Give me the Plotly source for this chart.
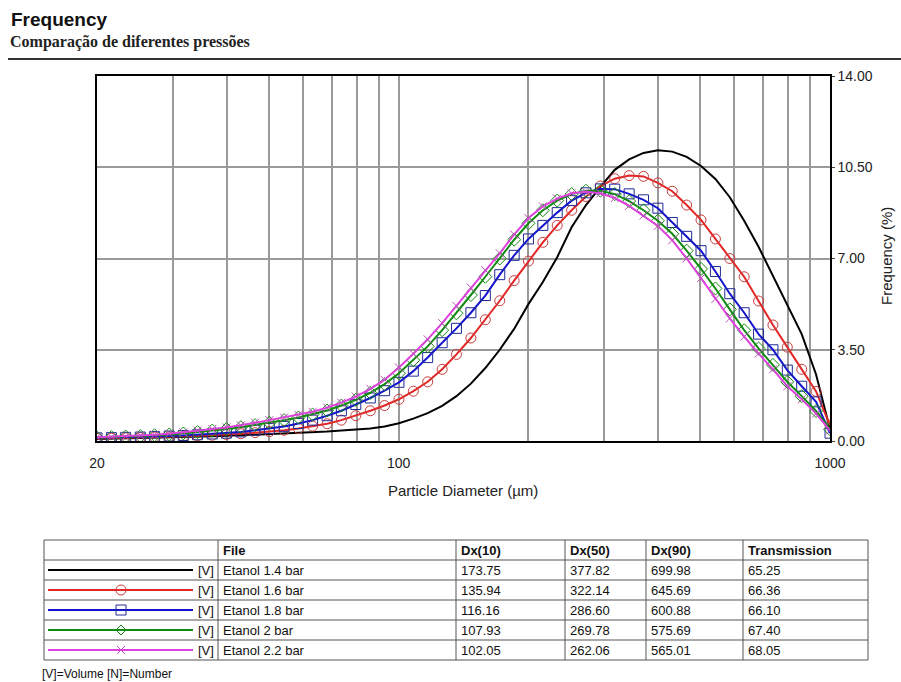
import plotly.graph_objects as go
import math

# ---------------- data ----------------
diameter_um = [20.0, 21.6, 23.3, 25.2, 27.2, 29.4, 31.7, 34.2, 37.0, 39.9,
               43.1, 46.5, 50.2, 54.3, 58.6, 63.2, 68.3, 73.7, 79.6, 86.0,
               92.8, 100.2, 108.2, 116.8, 126.2, 136.2, 147.1, 158.9, 171.6, 185.3,
               200.0, 216.0, 233.2, 251.8, 271.9, 293.6, 317.0, 342.3, 369.6, 399.1,
               430.9, 465.3, 502.4, 542.5, 585.8, 632.5, 683.0, 737.5, 796.2, 859.8,
               928.4, 1000.0]

freq_etanol_1_4 = [0.08, 0.09, 0.10, 0.11, 0.12, 0.14, 0.15, 0.17, 0.18, 0.20,
                   0.22, 0.24, 0.26, 0.28, 0.30, 0.33, 0.36, 0.40, 0.43, 0.48,
                   0.56, 0.68, 0.86, 1.07, 1.35, 1.72, 2.20, 2.80, 3.50, 4.30,
                   5.25, 6.10, 7.05, 8.20, 9.05, 9.75, 10.40, 10.80, 11.05, 11.15,
                   11.10, 10.90, 10.55, 10.05, 9.35, 8.45, 7.45, 6.35, 5.25, 4.10,
                   2.55, 0.45]

freq_etanol_1_6 = [0.10, 0.11, 0.12, 0.13, 0.15, 0.16, 0.18, 0.20, 0.22, 0.25,
                   0.28, 0.32, 0.36, 0.41, 0.48, 0.57, 0.66, 0.80, 0.97, 1.16,
                   1.36, 1.60, 1.91, 2.27, 2.75, 3.32, 3.95, 4.65, 5.38, 6.15,
                   6.90, 7.62, 8.27, 8.85, 9.38, 9.78, 10.06, 10.18, 10.15, 9.90,
                   9.58, 9.05, 8.48, 7.75, 7.00, 6.30, 5.37, 4.45, 3.60, 2.75,
                   1.90, 0.60]

freq_etanol_1_8 = [0.12, 0.13, 0.14, 0.15, 0.17, 0.19, 0.21, 0.24, 0.27, 0.30,
                   0.35, 0.41, 0.48, 0.56, 0.67, 0.80, 0.97, 1.16, 1.40, 1.65,
                   1.93, 2.25, 2.68, 3.20, 3.77, 4.32, 4.92, 5.58, 6.38, 7.12,
                   7.75, 8.27, 8.76, 9.22, 9.52, 9.67, 9.66, 9.48, 9.25, 8.93,
                   8.38, 7.85, 7.30, 6.50, 5.65, 4.92, 4.10, 3.50, 2.72, 2.10,
                   1.50, 0.30]

freq_etanol_2_0 = [0.13, 0.15, 0.17, 0.19, 0.22, 0.25, 0.29, 0.34, 0.40, 0.46,
                   0.53, 0.61, 0.70, 0.80, 0.90, 1.02, 1.17, 1.36, 1.58, 1.85,
                   2.18, 2.60, 3.10, 3.63, 4.25, 4.90, 5.60, 6.30, 7.00, 7.72,
                   8.35, 8.85, 9.22, 9.47, 9.60, 9.60, 9.47, 9.20, 8.85, 8.45,
                   7.95, 7.30, 6.60, 5.85, 5.05, 4.25, 3.55, 2.92, 2.27, 1.72,
                   1.15, 0.45]

freq_etanol_2_2 = [0.14, 0.16, 0.18, 0.21, 0.24, 0.28, 0.33, 0.40, 0.46, 0.52,
                   0.60, 0.70, 0.80, 0.90, 1.00, 1.12, 1.28, 1.47, 1.70, 2.00,
                   2.35, 2.82, 3.35, 3.90, 4.52, 5.18, 5.88, 6.55, 7.20, 7.92,
                   8.55, 9.00, 9.30, 9.50, 9.56, 9.50, 9.32, 9.02, 8.65, 8.25,
                   7.70, 7.00, 6.25, 5.45, 4.70, 4.00, 3.35, 2.75, 2.10, 1.60,
                   1.05, 0.40]

file_names = ["Etanol 1.4 bar", "Etanol 1.6 bar", "Etanol 1.8 bar", "Etanol 2 bar", "Etanol 2.2 bar"]
dx10 = ["173.75", "135.94", "116.16", "107.93", "102.05"]
dx50 = ["377.82", "322.14", "286.60", "269.78", "262.06"]
dx90 = ["699.98", "645.69", "600.88", "575.69", "565.01"]
transmission = ["65.25", "66.36", "66.10", "67.40", "68.05"]

x_tick_vals = [20, 30, 40, 50, 60, 70, 80, 90, 100, 200, 300, 400, 500, 600, 700, 800, 900, 1000]
x_tick_text = ["20", "", "", "", "", "", "", "", "100", "", "", "", "", "", "", "", "", "1000"]
y_tick_vals = [0, 3.5, 7, 10.5, 14]
y_tick_text = ["0.00", "3.50", "7.00", "10.50", "14.00"]

# ---------------- styles ----------------
series = [
    (freq_etanol_1_4, "#000000", "#000000", None, None),
    (freq_etanol_1_6, "#e32626", "#c83c3c", "circle-open", "circle"),
    (freq_etanol_1_8, "#1414d0", "#202c96", "square-open", "square"),
    (freq_etanol_2_0, "#118a11", "#118a11", "diamond-open", "diamond"),
    (freq_etanol_2_2, "#e040e0", "#c050c0", "x-thin-open", "x"),
]

W, H = 901, 682
L, R, T, B = 97, 830, 76, 441


def px(x):
    return (x - L) / (R - L)


def py(y):
    return (B - y) / (B - T)


FONT = "Liberation Sans, Arial, sans-serif"
TFS = 13

fig = go.Figure()
for vals, lc, mc, sym, _ in series:
    kw = dict(mode="lines")
    if sym:
        kw = dict(mode="lines+markers",
                  marker=dict(symbol=sym, size=10 if sym != "x-thin-open" else 8,
                              color=mc, line=dict(width=1, color=mc)))
    fig.add_trace(go.Scatter(x=diameter_um, y=vals, line=dict(color=lc, width=2),
                             showlegend=False, hoverinfo="skip", **kw))

shapes = []
annotations = []

# header
annotations.append(dict(text="<b>Frequency</b>", x=px(9), y=py(19), xref="paper", yref="paper",
                        xanchor="left", yanchor="middle", showarrow=False,
                        font=dict(family=FONT, size=19, color="#111")))
annotations.append(dict(text="<b>Comparação de diferentes pressões</b>", x=px(8), y=py(42),
                        xref="paper", yref="paper", xanchor="left", yanchor="middle", showarrow=False,
                        font=dict(family="Liberation Serif, serif", size=16, color="#222")))
shapes.append(dict(type="line", xref="paper", yref="paper", x0=px(8), x1=px(901), y0=py(59), y1=py(59),
                   line=dict(color="#333", width=2)))

# axis titles
annotations.append(dict(text="Particle Diameter (µm)", x=px(463), y=py(490), xref="paper", yref="paper",
                        xanchor="center", yanchor="middle", showarrow=False,
                        font=dict(family=FONT, size=15, color="#222")))
annotations.append(dict(text="Frequency (%)", x=px(886), y=py(256), xref="paper", yref="paper",
                        xanchor="center", yanchor="middle", showarrow=False, textangle=-90,
                        font=dict(family=FONT, size=15, color="#222")))

# ---------------- table ----------------
col_x = [44, 218, 456, 565, 646, 743, 868]
row_top, row_h, n_rows = 540, 20, 6
tcolor = "#555"
for i in range(n_rows + 1):
    yy = row_top + i * row_h
    shapes.append(dict(type="line", xref="paper", yref="paper", x0=px(col_x[0]), x1=px(col_x[-1]),
                       y0=py(yy), y1=py(yy), line=dict(color=tcolor, width=1)))
for cx in col_x:
    shapes.append(dict(type="line", xref="paper", yref="paper", x0=px(cx), x1=px(cx),
                       y0=py(row_top), y1=py(row_top + n_rows * row_h), line=dict(color=tcolor, width=1)))

headers = ["File", "Dx(10)", "Dx(50)", "Dx(90)", "Transmission"]
for j, h in enumerate(headers):
    annotations.append(dict(text="<b>" + h + "</b>", x=px(col_x[j + 1] + 3), y=py(row_top + row_h / 2),
                            xref="paper", yref="paper", xanchor="left", yanchor="middle", showarrow=False,
                            font=dict(family=FONT, size=TFS, color="#111")))

columns = [file_names, dx10, dx50, dx90, transmission]
for r in range(5):
    cy = row_top + (r + 1.5) * row_h
    for j, col in enumerate(columns):
        annotations.append(dict(text=col[r], x=px(col_x[j + 1] + 3), y=py(cy),
                                xref="paper", yref="paper", xanchor="left", yanchor="middle", showarrow=False,
                                font=dict(family=FONT, size=TFS, color="#111")))
    annotations.append(dict(text="[V]", x=px(216), y=py(cy), xref="paper", yref="paper",
                            xanchor="right", yanchor="middle", showarrow=False,
                            font=dict(family=FONT, size=TFS, color="#111")))
    lc, mc, ms = series[r][1], series[r][2], series[r][4]
    shapes.append(dict(type="line", xref="paper", yref="paper", x0=px(48), x1=px(193),
                       y0=py(cy), y1=py(cy), line=dict(color=lc, width=2)))
    mx, s = 121, 5
    if ms == "circle":
        shapes.append(dict(type="circle", xref="paper", yref="paper", x0=px(mx - s), x1=px(mx + s),
                           y0=py(cy - s), y1=py(cy + s), line=dict(color=mc, width=1)))
    elif ms == "square":
        shapes.append(dict(type="rect", xref="paper", yref="paper", x0=px(mx - s), x1=px(mx + s),
                           y0=py(cy - s), y1=py(cy + s), line=dict(color=mc, width=1)))
    elif ms == "diamond":
        path = "M {} {} L {} {} L {} {} L {} {} Z".format(
            px(mx - s), py(cy), px(mx), py(cy - s), px(mx + s), py(cy), px(mx), py(cy + s))
        shapes.append(dict(type="path", xref="paper", yref="paper", path=path, line=dict(color=mc, width=1)))
    elif ms == "x":
        s2 = 4
        path = "M {} {} L {} {} M {} {} L {} {}".format(
            px(mx - s2), py(cy - s2), px(mx + s2), py(cy + s2), px(mx - s2), py(cy + s2), px(mx + s2), py(cy - s2))
        shapes.append(dict(type="path", xref="paper", yref="paper", path=path, line=dict(color=mc, width=1)))

annotations.append(dict(text="[V]=Volume [N]=Number", x=px(40), y=py(674), xref="paper", yref="paper",
                        xanchor="left", yanchor="middle", showarrow=False,
                        font=dict(family=FONT, size=12, color="#111")))

fig.update_layout(
    width=W, height=H,
    margin=dict(l=L, r=W - R, t=T, b=H - B, pad=0),
    paper_bgcolor="white", plot_bgcolor="white",
    template="none",
    showlegend=False,
    shapes=shapes,
    annotations=annotations,
    xaxis=dict(type="log", range=[math.log10(20), 3], tickmode="array", tickvals=x_tick_vals,
               ticktext=x_tick_text, showgrid=True, gridcolor="#9a9a9a", gridwidth=1.5,
               showline=True, linecolor="#000", linewidth=1.5, mirror=True, ticks="",
               ticklabelstandoff=8, zeroline=False, automargin=False,
               tickfont=dict(family=FONT, size=14, color="#222")),
    yaxis=dict(range=[0, 14], side="right", tickmode="array", tickvals=y_tick_vals, ticktext=y_tick_text,
               showgrid=True, gridcolor="#9a9a9a", gridwidth=1.5, showline=True, linecolor="#000",
               linewidth=1.5, mirror=True, ticks="outside", ticklen=3, tickcolor="#444",
               zeroline=False, automargin=False,
               tickfont=dict(family=FONT, size=14, color="#222")),
)

fig.write_html("out.html",
               config={"displayModeBar": False},
               post_script="document.body.style.margin='0px';document.body.style.padding='0px';"
                           "document.body.style.overflow='hidden';")
